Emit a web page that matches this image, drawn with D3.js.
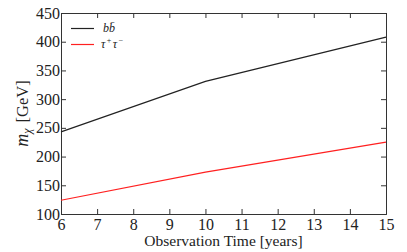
<!DOCTYPE html>
<html>
<head>
<meta charset="utf-8">
<script src="https://cdn.jsdelivr.net/npm/d3@7"></script>
<style>
  body { margin: 0; background: #fff; }
  text { font-family: "Liberation Serif", "DejaVu Serif", serif; fill: #222; }
</style>
</head>
<body>
<svg id="chart" width="407" height="252"></svg>
<script>
// observation time in years
const years = [6, 10, 15];
// dark matter mass reach, GeV
const bbValues = [243, 331, 408];
const tauValues = [124, 173, 225];
const xTicks = [6, 7, 8, 9, 10, 11, 12, 13, 14, 15];
const yTicks = [100, 150, 200, 250, 300, 350, 400, 450];

const svg = d3.select('#chart');
const margin = { left: 61, top: 13, right: 21, bottom: 38 };
const W = 407, H = 252;

const x = d3.scaleLinear().domain([6, 15]).range([margin.left, W - margin.right]);
const y = d3.scaleLinear().domain([100, 450]).range([H - margin.bottom, margin.top]);

const tickLen = 5;

// axes with inward ticks
const axBottom = svg.append('g')
  .attr('transform', `translate(0,${y(100)})`)
  .call(d3.axisBottom(x).tickValues(xTicks).tickSize(-tickLen).tickPadding(8).tickFormat(d3.format('d')));
const axTop = svg.append('g')
  .attr('transform', `translate(0,${y(450)})`)
  .call(d3.axisTop(x).tickValues(xTicks).tickSize(-tickLen).tickFormat(''));
const axLeft = svg.append('g')
  .attr('transform', `translate(${x(6)},0)`)
  .call(d3.axisLeft(y).tickValues(yTicks).tickSize(-tickLen).tickPadding(3).tickFormat(d3.format('d')));
const axRight = svg.append('g')
  .attr('transform', `translate(${x(15)},0)`)
  .call(d3.axisRight(y).tickValues(yTicks).tickSize(-tickLen).tickFormat(''));

[axBottom, axTop, axLeft, axRight].forEach(g => {
  g.select('.domain').attr('stroke', '#333').attr('stroke-width', 1);
  g.selectAll('.tick line').attr('stroke', '#333');
  g.selectAll('.tick text').attr('font-size', 16).attr('fill', '#222')
    .attr('font-family', '"Liberation Serif", serif');
});
axBottom.selectAll('.tick text').attr('dy', '0.5em');
axLeft.selectAll('.tick text').attr('dx', '2px');

const line = d3.line().x((d, i) => x(years[i])).y(d => y(d));

svg.append('path').datum(bbValues)
  .attr('d', line).attr('fill', 'none').attr('stroke', '#222').attr('stroke-width', 1.2);
svg.append('path').datum(tauValues)
  .attr('d', line).attr('fill', 'none').attr('stroke', '#ff2020').attr('stroke-width', 1.2);

// legend
const legend = svg.append('g');
legend.append('line').attr('x1', 71).attr('x2', 94).attr('y1', 28.5).attr('y2', 28.5)
  .attr('stroke', '#222').attr('stroke-width', 1.2);
legend.append('line').attr('x1', 71).attr('x2', 94).attr('y1', 44.5).attr('y2', 44.5)
  .attr('stroke', '#ff2020').attr('stroke-width', 1.2);
legend.append('text').attr('x', 103).attr('y', 32).attr('font-size', 12)
  .attr('font-style', 'italic').text('bb\u0304');
const tau = legend.append('text').attr('x', 101).attr('y', 48).attr('font-size', 12)
  .attr('font-style', 'italic');
tau.append('tspan').text('\u03c4');
tau.append('tspan').attr('dy', -5).attr('dx', 1).attr('font-size', 8).text('+');
tau.append('tspan').attr('dy', 5).attr('dx', 1).text('\u03c4');
tau.append('tspan').attr('dy', -5).attr('dx', 1).attr('font-size', 8).text('\u2212');

// axis labels
svg.append('text').attr('x', (x(6) + x(15)) / 2).attr('y', 246)
  .attr('text-anchor', 'middle').attr('font-size', 15.5).text('Observation Time [years]');

const yl = svg.append('text').attr('transform', `translate(28,${(y(100) + y(450)) / 2}) rotate(-90)`)
  .attr('text-anchor', 'middle').attr('font-size', 16.5);
yl.append('tspan').attr('font-style', 'italic').attr('font-size', 18).text('m');
yl.append('tspan').attr('font-style', 'italic').attr('font-size', 12).attr('dy', 3).text('\u03c7');
yl.append('tspan').attr('dy', -3).attr('dx', 6).text('[GeV]');
</script>
</body>
</html>
